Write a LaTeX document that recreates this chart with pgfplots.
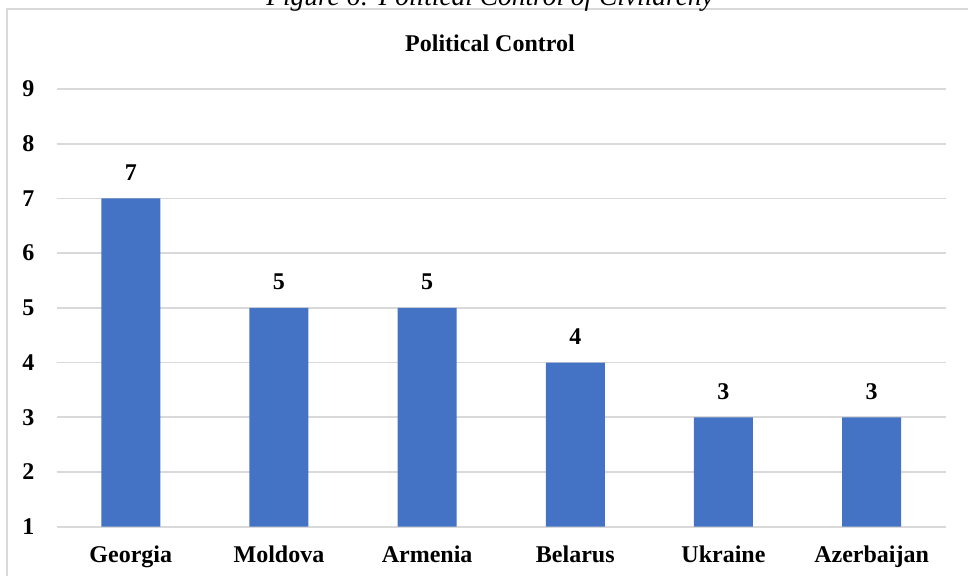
\documentclass[border=0pt]{standalone}
\usepackage{fontspec}
\setmainfont{Liberation Serif}
\usepackage{pgfplots}
\pgfplotsset{compat=1.18}
\definecolor{barblue}{HTML}{4472C4}
\definecolor{gridgray}{HTML}{D9D9D9}
\newcommand{\chartfont}{\fontsize{12bp}{14bp}\selectfont\bfseries}
\begin{document}
\begin{tikzpicture}
% chart frame (runs past the right and bottom page edges)
\draw[gridgray, line width=1bp] (3.25bp,-10bp) -- (3.25bp,283.5bp) -- (500bp,283.5bp);
% figure caption, partly above the page
\node[anchor=base, inner sep=0pt, font=\fontsize{13.7bp}{16bp}\selectfont\itshape]
  at (245bp,285.15bp) {Figure 6: Political Control of Civilarchy};
% chart title
\node[anchor=base, inner sep=0pt, font=\chartfont] at (245bp,262.2bp) {Political Control};
\begin{axis}[
  at={(28.35bp,24.65bp)}, anchor=south west,
  scale only axis, width=444.5bp, height=218.85bp,
  xmin=-0.5, xmax=5.5, ymin=1, ymax=9,
  ybar, bar width=29.5bp,
  xtick=data,
  xticklabels={Georgia,Moldova,Armenia,Belarus,Ukraine,Azerbaijan},
  ytick={1,...,9},
  ymajorgrids, grid style={gridgray, line width=0.9bp},
  axis line style={draw=none},
  major tick length=0pt,
  /pgf/number format/assume math mode=true,
  tick label style={font=\chartfont},
  xticklabel style={anchor=base, inner sep=0pt, yshift=-18bp},
  yticklabel style={anchor=east, inner sep=0pt, xshift=-11bp},
  nodes near coords,
  every node near coord/.append style={font=\chartfont, anchor=base, inner sep=0pt, yshift=9bp},
]
\addplot[fill=barblue, draw=none] coordinates {(0,7) (1,5) (2,5) (3,4) (4,3) (5,3)};
\end{axis}
\pgfresetboundingbox
\useasboundingbox (0,0) rectangle (484bp,288bp);
\end{tikzpicture}
\end{document}
